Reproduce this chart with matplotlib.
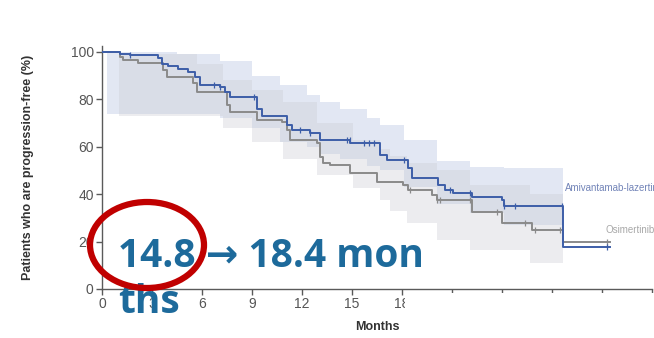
import numpy as np
import matplotlib.pyplot as plt
from matplotlib.patches import Ellipse, Rectangle

# Kaplan-Meier progression-free survival, months vs %
ami_t = [0, 1.08, 1.68, 3.36, 3.6, 3.96, 4.56, 5.16, 5.58, 5.88, 7.08, 7.38, 7.68,
         9.3, 9.6, 11.1, 11.4, 12.48, 13.08, 14.88, 16.68, 17.1, 18.36, 18.6,
         20.16, 20.58, 21.06, 22.2, 24.0, 24.1, 27.66, 30.5]
ami_s = [100, 99, 98.5, 97.5, 95, 94, 93, 91.5, 89.5, 86, 85, 83, 81,
         76, 73, 69, 67, 66, 63, 61.5, 56.5, 54.4, 51, 47,
         44, 41.8, 40.5, 38.8, 37.6, 35, 17.7, 17.7]

osi_t = [0, 1.08, 1.26, 2.16, 3.66, 3.9, 5.46, 5.7, 7.5, 7.68, 9.3, 10.8, 11.1, 11.28,
         12.9, 13.08, 13.26, 13.68, 14.88, 16.5, 18.06, 18.36, 19.8, 20.1,
         22.2, 24.0, 25.8, 27.66, 30.5]
osi_s = [100, 98, 96.6, 95.3, 92.4, 89.5, 87, 83, 77.6, 74.7, 71.3, 70.5, 67, 63,
         61.5, 55.7, 53, 52.3, 49, 45, 43.9, 41.8, 39.7, 37.6,
         32.5, 28, 25, 20, 20]

ami_cens = [1.7, 6.7, 7.1, 9.1, 11.9, 12.5, 14.7, 14.85, 15.7, 16.0, 16.3, 18.1,
            20.9, 22.1, 24.1, 24.8, 27.6, 30.3]
osi_cens = [18.5, 20.1, 20.3, 22.1, 23.7, 25.4, 26.0, 27.5, 30.3]

# 95% confidence bands
ami_ci_t = [0.3, 4.5, 7.1, 9.0, 10.7, 12.3, 13.1, 14.3, 15.9, 16.7, 18.1, 20.1,
            22.1, 24.1, 27.66]
ami_ci_hi = [100, 99, 96, 90, 86, 82, 79, 76, 72, 69, 63, 54, 51.5, 51, 51]
ami_ci_lo = [74, 74, 72, 68, 62, 60, 57, 55, 52, 50, 43, 36, 32, 27, 27]
osi_ci_t = [1.0, 5.7, 7.26, 9.0, 10.86, 12.9, 15.06, 16.68, 17.3, 18.3, 20.1,
            22.1, 25.7, 27.66]
osi_ci_hi = [99, 95, 88, 84, 79, 70, 63, 59, 56, 53, 50, 44, 40, 40]
osi_ci_lo = [73, 73, 68, 62, 55, 48, 42.6, 37.6, 33, 28, 20.7, 16.5, 11, 11]

x_ticks = list(range(0, 34, 3))
x_labels = [str(v) if v <= 18 else '' for v in x_ticks]
y_ticks = [0, 20, 40, 60, 80, 100]

blue = '#3d5ea8'
grey = '#8a8a8a'
axis_col = '#5a5a5a'
narrow = ['Liberation Sans Narrow', 'Liberation Sans', 'DejaVu Sans']


def step_value(times, surv, t):
    idx = np.searchsorted(times, t, side='right') - 1
    return np.asarray(surv)[idx]


fig = plt.figure(figsize=(6.54, 3.38), dpi=100)
ax = fig.add_axes([102 / 654, 49 / 338, 550 / 654, 243 / 338])

ax.fill_between(ami_ci_t, ami_ci_lo, ami_ci_hi, step='post',
                color='#e2e7f3', lw=0, zorder=1)
ax.fill_between(osi_ci_t, osi_ci_lo, osi_ci_hi, step='post',
                color='#c9cbd3', lw=0, alpha=0.35, zorder=2)

ax.step(osi_t, osi_s, where='post', color=grey, lw=1.4, zorder=3)
ax.step(ami_t, ami_s, where='post', color=blue, lw=1.4, zorder=4)

ax.plot(osi_cens, step_value(osi_t, osi_s, osi_cens), ls='none', marker='|',
        ms=5, mew=0.9, color=grey, zorder=3)
ax.plot(ami_cens, step_value(ami_t, ami_s, ami_cens), ls='none', marker='|',
        ms=5, mew=0.9, color=blue, zorder=4)

ax.text(27.8, 42.6, 'Amivantamab-lazertinib', color='#7284b8', fontsize=7,
        family=narrow, va='center', clip_on=False)
ax.text(30.2, 25.0, 'Osimertinib', color='#a8a8a8', fontsize=7,
        family=narrow, va='center', clip_on=False)

ax.set_xlim(0, 33)
ax.set_ylim(0, 102.5)
ax.set_xticks(x_ticks)
ax.set_xticklabels(x_labels)
ax.set_yticks(y_ticks)
for lab in ax.get_xticklabels() + ax.get_yticklabels():
    lab.set_family(narrow)
    lab.set_fontsize(10)
    lab.set_color('#555555')
ax.tick_params(direction='out', length=4, width=1, color=axis_col, pad=2)
for side in ['top', 'right']:
    ax.spines[side].set_visible(False)
for side in ['left', 'bottom']:
    ax.spines[side].set_color(axis_col)
    ax.spines[side].set_linewidth(1)

ax.set_xlabel('Months', family=narrow, fontsize=9, fontweight='bold',
              color='#333333', labelpad=7)
ax.set_ylabel('Patients who are progression-free (%)', family=narrow, fontsize=9,
              fontweight='bold', color='#333333', labelpad=26)

# blank strip over the later tick labels
fig.patches.append(Rectangle((405 / 654, 20 / 338), 249 / 654, 25 / 338,
                             transform=fig.transFigure, facecolor='white',
                             edgecolor='none', zorder=5))

# callout
fig.text(118 / 654, (338 - 313) / 338, '14.8 \u2192 18.4 mon\nths',
         family=['Open Sans', 'DejaVu Sans'], fontweight='bold', fontsize=28,
         color='#1d6a9b', ha='left', va='baseline', linespacing=1.24, zorder=6)
fig.patches.append(Ellipse((147 / 654, (338 - 245) / 338), 114 / 654, 86 / 338,
                           transform=fig.transFigure, fill=False,
                           edgecolor='#c00000', lw=4.5, zorder=7))

fig.savefig('out.png', dpi=100)
